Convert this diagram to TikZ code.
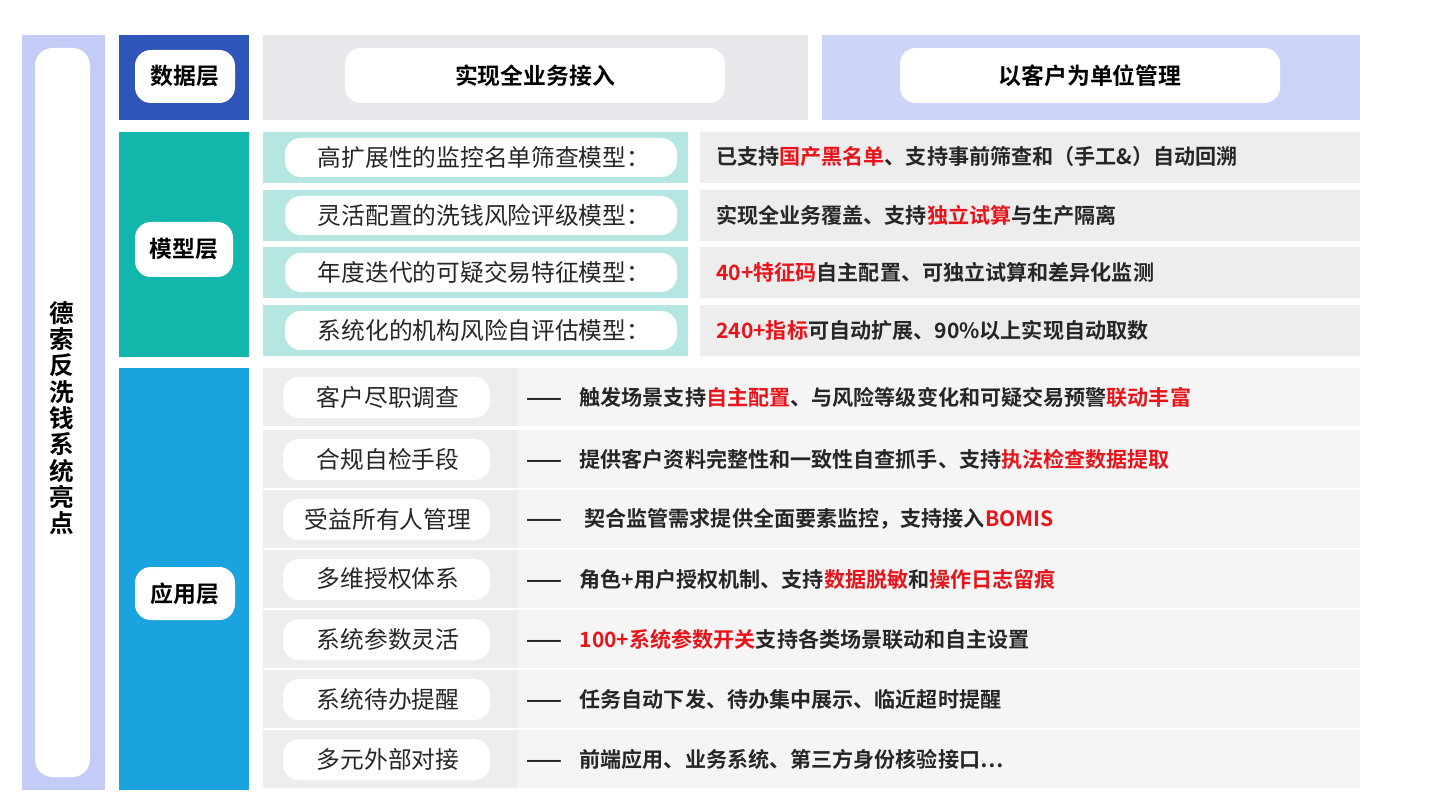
\documentclass[tikz,border=0pt]{standalone}
\usepackage{fontspec}
\setmainfont{Noto Sans CJK SC}
\newfontfamily\cjkb{Noto Sans CJK SC Bold}
\usetikzlibrary{positioning}
\definecolor{sideblue}{HTML}{C3CCF6}
\definecolor{datablue}{HTML}{2E55B8}
\definecolor{modteal}{HTML}{12B6AB}
\definecolor{appblue}{HTML}{1AA3DF}
\definecolor{lteal}{HTML}{B5E6E2}
\definecolor{lgrey}{HTML}{E6E8EC}
\definecolor{lgrey2}{HTML}{EDEDED}
\definecolor{lgrey3}{HTML}{F5F5F5}
\definecolor{hired}{HTML}{E8141B}
\newcommand{\hl}[1]{\textcolor{hired}{#1}}
\tikzset{
  px/.style={x=0.02cm,y=-0.02cm},
  pill/.style={fill=white, rounded corners=9pt, inner sep=0pt},
  tag/.style={font=\cjkb\fontsize{13}{15}\selectfont},
  itemname/.style={font=\fontsize{13.5}{16}\selectfont, text=black!85},
  desc/.style={font=\cjkb\fontsize{12}{14}\selectfont, anchor=west, text=black!85},
}
\begin{document}
\begin{tikzpicture}[px]
  \useasboundingbox (0,0) rectangle (1440,810);
  % left side bar
  \fill[sideblue] (22,35) rectangle (105,790);
  \fill[white, rounded corners=10pt] (35,48) rectangle (90,777);
  \node[font=\cjkb\fontsize{14}{15}\selectfont, align=center] (title) at (62,418)
    {德\\索\\反\\洗\\钱\\系\\统\\亮\\点};
  % data layer
  \fill[datablue] (119,35) rectangle (249,120);
  \fill[pill] (135,50) rectangle (235,103);
  \node[tag] (data) at (185,76) {数据层};
  \fill[lgrey] (263,35) rectangle (808,120);
  \fill[pill] (345,48) rectangle (725,103);
  \node[tag] (access) at (535,76) {实现全业务接入};
  \fill[sideblue!85] (822,35) rectangle (1360,120);
  \fill[pill] (900,48) rectangle (1280,103);
  \node[tag] (cust) at (1090,76) {以客户为单位管理};
  % model layer
  \fill[modteal] (119,132) rectangle (249,357);
  \fill[pill] (135,222) rectangle (233,277);
  \node[tag] (model) at (184,249) {模型层};
  \foreach \y/\a/\b [count=\i] in {
    132/高扩展性的监控名单筛查模型：/{已支持\hl{国产黑名单}、支持事前筛查和（手工\&）自动回溯},
    190/灵活配置的洗钱风险评级模型：/{实现全业务覆盖、支持\hl{独立试算}与生产隔离},
    247/年度迭代的可疑交易特征模型：/{\hl{40+特征码}自主配置、可独立试算和差异化监测},
    305/系统化的机构风险自评估模型：/{\hl{240+指标}可自动扩展、90\%以上实现自动取数}} {
    \fill[lteal] (263,\y) rectangle (688,\y+51);
    \fill[pill] (285,\y+6) rectangle (677,\y+45);
    \node[itemname] (m\i) at (484,\y+25) {\a};
    \fill[lgrey2] (700,\y) rectangle (1360,\y+51);
    \node[desc] (md\i) at (710,\y+25) {\b};
  }
  % application layer
  \fill[appblue] (119,368) rectangle (249,790);
  \fill[pill] (135,567) rectangle (235,620);
  \node[tag] (app) at (185,594) {应用层};
  \foreach \y/\a/\b [count=\i] in {
    368/客户尽职调查/{触发场景支持\hl{自主配置}、与风险等级变化和可疑交易预警\hl{联动丰富}},
    430/合规自检手段/{提供客户资料完整性和一致性自查抓手、支持\hl{执法检查数据提取}},
    490/受益所有人管理/{\ 契合监管需求提供全面要素监控，支持接入\hl{BOMIS}},
    550/多维授权体系/{角色+用户授权机制、支持\hl{数据脱敏}和\hl{操作日志留痕}},
    610/系统参数灵活/{\hl{100+系统参数开关}支持各类场景联动和自主设置},
    670/系统待办提醒/{任务自动下发、待办集中展示、临近超时提醒},
    730/多元外部对接/{前端应用、业务系统、第三方身份核验接口…}} {
    \fill[lgrey2] (263,\y) rectangle (518,\y+58);
    \fill[pill] (283,\y+9) rectangle (490,\y+50);
    \node[itemname] (a\i) at (388,\y+29) {\a};
    \fill[lgrey3] (518,\y) rectangle (1360,\y+58);
    \node[desc] (ad\i) at (520,\y+29) {——\hspace{10pt}\b};
  }
\end{tikzpicture}
\end{document}
